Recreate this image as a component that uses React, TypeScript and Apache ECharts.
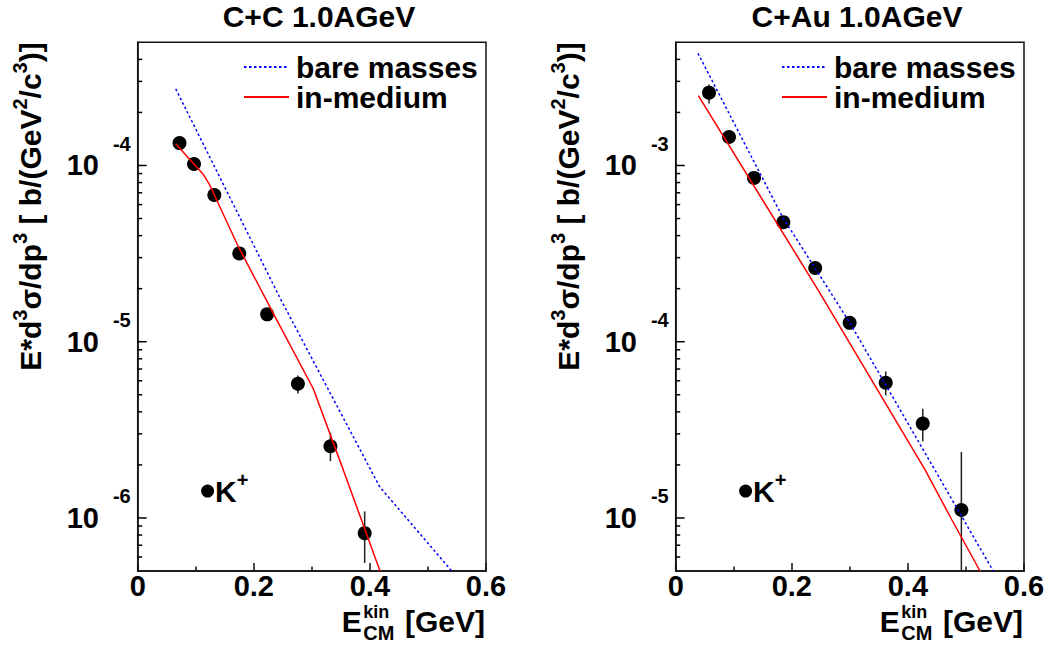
import React, { useEffect, useRef } from "react";
import * as echarts from "echarts";

const FONT = '"Liberation Sans", Arial, Helvetica, sans-serif';

// ---------- C+C 1.0 AGeV (left panel) ----------
const CC_TITLE = "C+C 1.0AGeV";
const CC_E = [0.072, 0.097, 0.132, 0.175, 0.223, 0.276, 0.332, 0.391];
const CC_VAL = [1.34e-4, 1.02e-4, 6.8e-5, 3.17e-5, 1.43e-5, 5.77e-6, 2.55e-6, 8.2e-7];
const CC_ERR_LO = [1.29e-4, 0.98e-4, 6.5e-5, 3.02e-5, 1.37e-5, 5.08e-6, 2.1e-6, 5.56e-7];
const CC_ERR_HI = [1.39e-4, 1.06e-4, 7.1e-5, 3.32e-5, 1.49e-5, 6.43e-6, 3.04e-6, 1.09e-6];
const CC_BARE_E = [0.0655, 0.2463, 0.417, 0.541];
const CC_BARE_VAL = [2.72e-4, 1.74e-5, 1.5e-6, 5.0e-7];
const CC_MED_E = [0.0655, 0.113, 0.1245, 0.173, 0.221, 0.239, 0.3025, 0.354, 0.4174];
const CC_MED_VAL = [1.33e-4, 8.9e-5, 7.7e-5, 3.48e-5, 1.74e-5, 1.34e-5, 5.41e-6, 1.88e-6, 5.0e-7];
const CC_Y_MIN = 5e-7;
const CC_Y_MAX = 5e-4;
const CC_DECADES = [-7, -6, -5, -4];
const CC_KLABEL = [0.1204, 1.42e-6];

// ---------- C+Au 1.0 AGeV (right panel) ----------
const CAU_TITLE = "C+Au 1.0AGeV";
const CAU_E = [0.0574, 0.0918, 0.1349, 0.1854, 0.2403, 0.2996, 0.3618, 0.4256, 0.4921];
const CAU_VAL = [2.59e-3, 1.45e-3, 8.5e-4, 4.77e-4, 2.62e-4, 1.28e-4, 5.85e-5, 3.43e-5, 1.11e-5];
const CAU_ERR_LO = [2.25e-3, 1.38e-3, 8.1e-4, 4.45e-4, 2.5e-4, 1.2e-4, 4.96e-5, 2.72e-5, 3.0e-6];
const CAU_ERR_HI = [2.88e-3, 1.52e-3, 8.9e-4, 5.05e-4, 2.74e-4, 1.36e-4, 6.78e-5, 4.16e-5, 2.37e-5];
const CAU_BARE_E = [0.0384, 0.1845, 0.3, 0.547];
const CAU_BARE_VAL = [4.33e-3, 5.07e-4, 1.28e-4, 5.0e-6];
const CAU_MED_E = [0.039, 0.248, 0.4294, 0.4754, 0.5242];
const CAU_MED_VAL = [2.49e-3, 1.9e-4, 1.88e-5, 9.8e-6, 5.0e-6];
const CAU_Y_MIN = 5e-6;
const CAU_Y_MAX = 5e-3;
const CAU_DECADES = [-6, -5, -4, -3];
const CAU_KLABEL = [0.1204, 1.42e-5];

// ---------- shared axis settings ----------
const X_MIN = 0;
const X_MAX = 0.6;
const X_STEP = 0.2;
const X_TICK_LABELS = ["0", "0.2", "0.4", "0.6"];
const MANTISSAS = [1, 2, 3, 4, 5, 6, 7, 8, 9];
const LEGEND_NAMES = ["bare masses", "in-medium"];
const K_LABEL = "{k|K}{p|+}";
const Y_TITLE =
  "{b|E*d}{s|3}{b|σ/dp}{s|3}{b| [ b/(GeV}{s|2}{b|/c}{s|3}{b|)]}";

// layout
const GRID_TOP = 42.3;
const GRID_W = 348.3;
const GRID_H = 528.7;
const GRID_LEFTS = [137.7, 675.7];

function zip(a: number[], b: number[]) {
  return a.map((v, i) => [v, b[i]]);
}

function tickData(decades: number[], min: number, max: number) {
  const out: number[][] = [];
  decades.forEach((d) => {
    MANTISSAS.forEach((m) => {
      const v = m * Math.pow(10, d);
      if (v > min * 1.0001 && v < max * 0.9999) out.push([0, v, m === 1 ? 1 : 0, d]);
    });
  });
  return out;
}

const yTickRender = (params: any, api: any) => {
  const v = api.value(1);
  const major = api.value(2) === 1;
  const exp = api.value(3);
  const p = api.coord([0, v]);
  const len = major ? 9 : 4.5;
  const children: any[] = [
    {
      type: "line",
      shape: { x1: p[0], y1: p[1], x2: p[0] + len, y2: p[1] },
      style: { stroke: "#000", lineWidth: 1.5 },
    },
  ];
  if (major) {
    children.push({
      type: "text",
      x: p[0] - 7,
      y: p[1],
      style: {
        text: "{b|10}{g| }{e|" + exp + "}",
        align: "right",
        verticalAlign: "middle",
        textAlign: "right",
        textVerticalAlign: "middle",
        fill: "#000",
        rich: {
          b: { fontSize: 29, fontWeight: "bold", fontFamily: FONT, fill: "#000", lineHeight: 63, verticalAlign: "middle" },
          g: { fontSize: 10, width: 14 },
          e: { fontSize: 20, fontWeight: "bold", fontFamily: FONT, fill: "#000", verticalAlign: "top" },
        },
      },
    });
  }
  return { type: "group", children };
};

const errRender = (params: any, api: any) => {
  const x = api.value(0);
  const a = api.coord([x, api.value(1)]);
  const b = api.coord([x, api.value(2)]);
  return {
    type: "line",
    shape: { x1: a[0], y1: a[1], x2: b[0], y2: b[1] },
    style: { stroke: "#222", lineWidth: 1.5 },
  };
};

function buildOption() {
  const panels = [
    {
      title: CC_TITLE, e: CC_E, val: CC_VAL, lo: CC_ERR_LO, hi: CC_ERR_HI,
      bareE: CC_BARE_E, bareV: CC_BARE_VAL, medE: CC_MED_E, medV: CC_MED_VAL,
      min: CC_Y_MIN, max: CC_Y_MAX, decades: CC_DECADES, k: CC_KLABEL,
    },
    {
      title: CAU_TITLE, e: CAU_E, val: CAU_VAL, lo: CAU_ERR_LO, hi: CAU_ERR_HI,
      bareE: CAU_BARE_E, bareV: CAU_BARE_VAL, medE: CAU_MED_E, medV: CAU_MED_VAL,
      min: CAU_Y_MIN, max: CAU_Y_MAX, decades: CAU_DECADES, k: CAU_KLABEL,
    },
  ];

  const grid: any[] = [];
  const xAxis: any[] = [];
  const yAxis: any[] = [];
  const series: any[] = [];
  const legend: any[] = [];
  const graphic: any[] = [];

  panels.forEach((p, i) => {
    const L = GRID_LEFTS[i];
    const R = L + GRID_W;
    grid.push({
      left: L, top: GRID_TOP, width: GRID_W, height: GRID_H,
      show: true, borderColor: "#111", borderWidth: 1.5, backgroundColor: "transparent",
      containLabel: false, outerBoundsMode: "none",
    });
    xAxis.push({
      gridIndex: i, type: "value", min: X_MIN, max: X_MAX, interval: X_STEP,
      axisLine: { show: true, lineStyle: { color: "#111", width: 1.5 } },
      axisTick: { show: true, inside: true, length: 8, lineStyle: { color: "#111", width: 1.5 } },
      minorTick: { show: true, splitNumber: 2, length: 4.5, lineStyle: { color: "#111", width: 1.5 } },
      splitLine: { show: false },
      minorSplitLine: { show: false },
      axisLabel: {
        show: true, margin: 4.5, fontSize: 29, lineHeight: 21, fontWeight: "bold", fontFamily: FONT, color: "#000",
        formatter: (v: number) => X_TICK_LABELS[Math.round(v / X_STEP)] ?? "",
      },
    });
    yAxis.push({
      gridIndex: i, type: "log", logBase: 10, min: p.min, max: p.max,
      axisLine: { show: true, lineStyle: { color: "#111", width: 1.5 } },
      axisTick: { show: false },
      minorTick: { show: false },
      axisLabel: { show: false },
      splitLine: { show: false },
      minorSplitLine: { show: false },
    });

    series.push({
      type: "custom", name: "yticks" + i, xAxisIndex: i, yAxisIndex: i,
      data: tickData(p.decades, p.min, p.max),
      encode: { x: 0, y: 1 }, renderItem: yTickRender, clip: false, silent: true, z: 6,
    });
    series.push({
      type: "custom", name: "err" + i, xAxisIndex: i, yAxisIndex: i,
      data: p.e.map((x, j) => [x, p.lo[j], p.hi[j]]),
      encode: { x: 0, y: [1, 2] }, renderItem: errRender, clip: true, silent: true, z: 2,
    });
    series.push({
      type: "scatter", name: "data" + i, xAxisIndex: i, yAxisIndex: i,
      data: zip(p.e, p.val), symbol: "circle", symbolSize: 14,
      itemStyle: { color: "#000", opacity: 1 }, silent: true, z: 3,
    });
    series.push({
      type: "scatter", name: "klabel" + i, xAxisIndex: i, yAxisIndex: i,
      data: [p.k], symbol: "circle", symbolSize: 13,
      itemStyle: { color: "#000", opacity: 1 }, silent: true, z: 3,
      label: {
        show: true, position: "right", distance: 1, formatter: K_LABEL,
        rich: {
          k: { fontSize: 30, fontWeight: "bold", fontFamily: FONT, color: "#000", lineHeight: 42, verticalAlign: "middle" },
          p: { fontSize: 20, fontWeight: "bold", fontFamily: FONT, color: "#000", verticalAlign: "top" },
        },
      },
    });
    series.push({
      type: "line", name: LEGEND_NAMES[0], xAxisIndex: i, yAxisIndex: i,
      data: zip(p.bareE, p.bareV), symbol: "none", showSymbol: false, clip: true,
      lineStyle: { color: "#0000ff", width: 1.5, type: [2.5, 2.5] },
      itemStyle: { color: "#0000ff" }, silent: true, z: 4,
    });
    series.push({
      type: "line", name: LEGEND_NAMES[1], xAxisIndex: i, yAxisIndex: i,
      data: zip(p.medE, p.medV), symbol: "none", showSymbol: false, clip: true,
      lineStyle: { color: "#ff0000", width: 1.5, type: "solid" },
      itemStyle: { color: "#ff0000" }, silent: true, z: 4,
    });

    legend.push({
      data: LEGEND_NAMES, orient: "vertical", left: L + 105.3, top: 52, padding: 0,
      itemWidth: 45, itemHeight: 14, itemGap: 0, selectedMode: false,
      itemStyle: { opacity: 0 },
      textStyle: { fontSize: 30, fontWeight: "bold", fontFamily: FONT, color: "#000", lineHeight: 27.5, padding: [0, 0, 0, 2] },
    });

    // panel title
    graphic.push({
      type: "text", x: L + 181.3, y: 16.5, silent: true,
      style: {
        text: p.title, fontSize: 30, fontWeight: "bold", fontFamily: FONT, fill: "#000",
        align: "center", verticalAlign: "middle", textAlign: "center", textVerticalAlign: "middle",
      },
    });
    // y-axis title (rotated)
    graphic.push({
      type: "text", x: L - 107.7, y: GRID_TOP, rotation: Math.PI / 2, silent: true,
      style: {
        text: Y_TITLE, fill: "#000",
        align: "right", verticalAlign: "middle", textAlign: "right", textVerticalAlign: "middle",
        rich: {
          b: { fontSize: 30, fontWeight: "bold", fontFamily: FONT, fill: "#000", lineHeight: 40, verticalAlign: "middle" },
          s: { fontSize: 20, fontWeight: "bold", fontFamily: FONT, fill: "#000", verticalAlign: "top" },
        },
      },
    });
    // x-axis title E_CM^kin [GeV]
    const tx = (text: string, x: number, y: number, size: number, align: string, lh: number) => ({
      type: "text", x, y, silent: true,
      style: {
        text, fontSize: size, fontWeight: "bold", fontFamily: FONT, fill: "#000", lineHeight: lh,
        align, verticalAlign: "middle", textAlign: align, textVerticalAlign: "middle",
      },
    });
    graphic.push(tx("E", R - 124.3, 621.5, 30, "right", 30));
    graphic.push(tx("kin", R - 122.7, 611.5, 18, "left", 14));
    graphic.push(tx("CM", R - 122.7, 633, 20, "left", 14));
    graphic.push(tx("[GeV]", R - 1, 621.5, 30, "right", 30));
  });

  return {
    animation: false,
    backgroundColor: "#fff",
    textStyle: { fontFamily: FONT },
    grid, xAxis, yAxis, series, legend, graphic,
  };
}

export default function App() {
  const ref = useRef<HTMLDivElement>(null);
  useEffect(() => {
    if (!ref.current) return;
    const chart = echarts.init(ref.current, null, { renderer: "svg" });
    chart.setOption(buildOption() as any);
    return () => chart.dispose();
  }, []);
  return (
    <div
      ref={ref}
      style={{ position: "fixed", left: 0, top: 0, width: 1050, height: 645, background: "#fff" }}
    />
  );
}
